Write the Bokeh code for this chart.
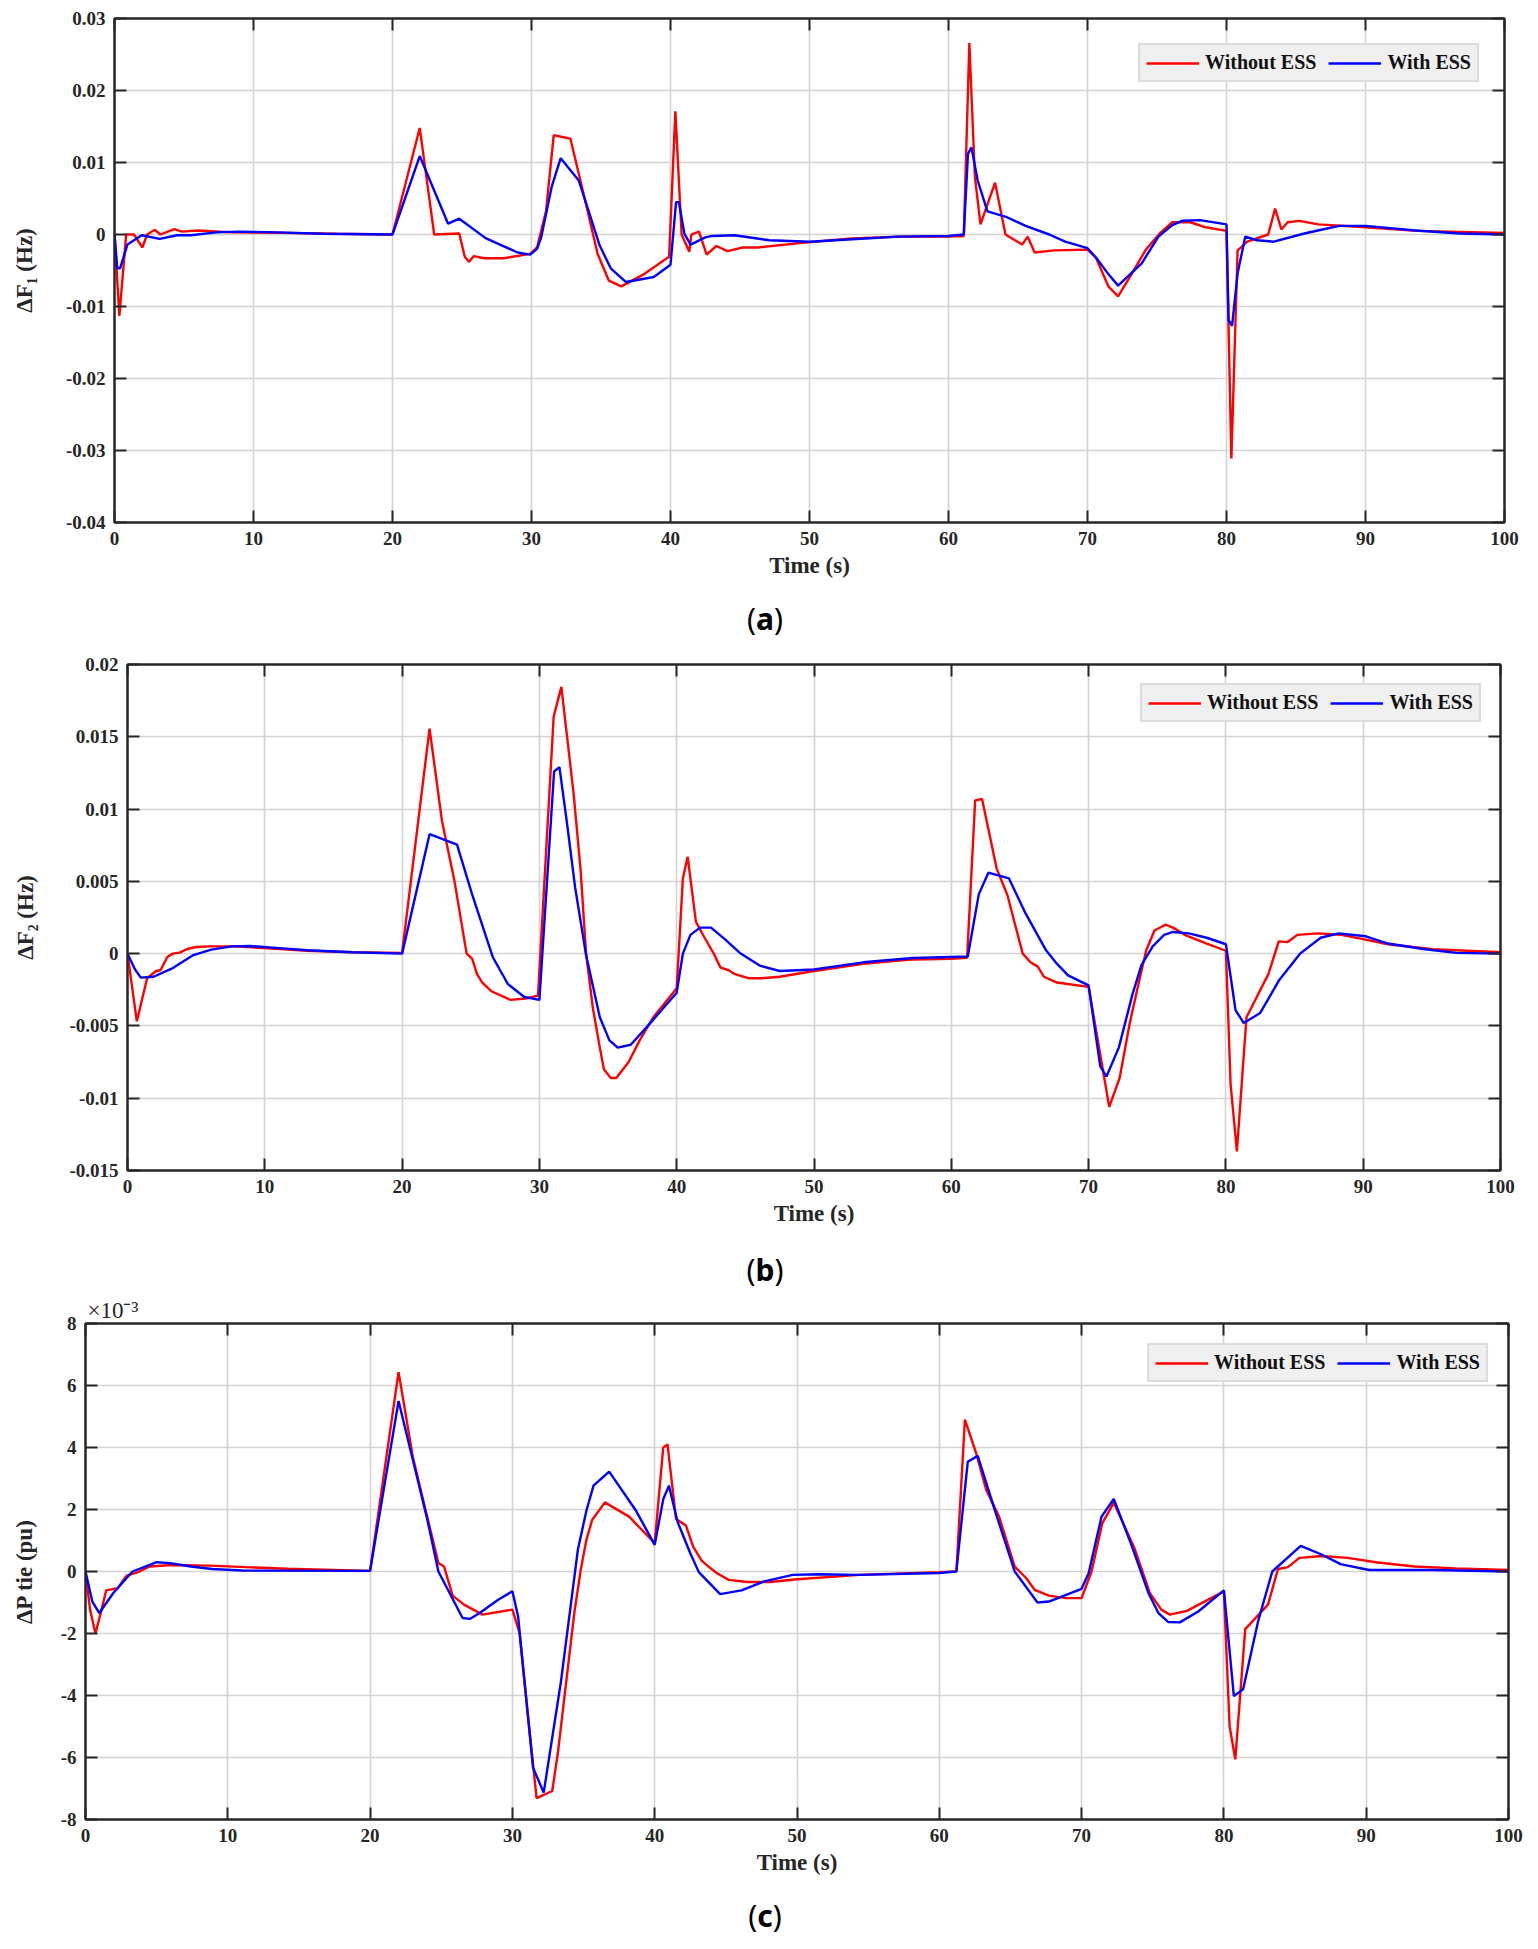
from bokeh.plotting import figure
from bokeh.models import (Range1d, FixedTicker, LinearAxis, CustomJSTickFormatter,
                          Legend, LegendItem, Div, Title)
from bokeh.embed import file_html
from bokeh.resources import INLINE

# ---------------- data ----------------
x_ticks = [0, 10, 20, 30, 40, 50, 60, 70, 80, 90, 100]

# Panel (a)  dF1 (Hz)
a_red_t = [0, 0.35, 0.84, 1.4, 2.0, 2.35, 2.9, 3.3, 4.3, 4.85, 6.0, 8.5, 12, 16, 20, 21.96, 23.0, 24.8,
           25.2, 25.5, 25.85, 26.6, 28.0, 29.9, 30.4, 31.05, 31.6, 32.8, 33.8, 34.76, 35.56, 36.46, 38.1,
           39.9, 40.35, 40.8, 41.35, 41.5, 42.05, 42.6, 43.3, 44.1, 45.2, 46.3, 49.3, 53, 56.4, 60, 61.1,
           61.5, 61.9, 62.3, 63.35, 64.1, 65.3, 65.7, 66.2, 67.6, 70.0, 70.6, 71.5, 72.2, 73.2, 74.2, 75.2,
           76.1, 77.4, 78.5, 80.0, 80.35, 80.8, 81.5, 83.0, 83.5, 83.95, 84.4, 85.25, 86.6, 90, 93.7, 100]
a_red_v = [0, -0.0113, 0, 0, -0.0018, 0, 0.00065, 0, 0.00075, 0.0004, 0.00055, 0.0003, 0.00023, 0.0001, 0,
           0.0148, 0, 0.00014, -0.0031, -0.0038, -0.003, -0.0033, -0.0033, -0.0027, -0.0018, 0.0033, 0.0138,
           0.0133, 0.0052, -0.0027, -0.0064, -0.0072, -0.0055, -0.0031, 0.0171, 0, -0.0024, 0, 0.0004,
           -0.0028, -0.0016, -0.0023, -0.0018, -0.0018, -0.0012, -0.00056, -0.0003, -0.0003, -0.0002,
           0.0266, 0.008, 0.0014, 0.0072, 0, -0.0014, -0.0003, -0.0025, -0.0022, -0.0021, -0.0032, -0.0072,
           -0.0086, -0.0054, -0.0021, 0.00014, 0.0017, 0.0017, 0.001, 0.0005, -0.0311, -0.0022, -0.001, 0,
           0.0036, 0.0007, 0.0017, 0.0019, 0.0014, 0.001, 0.0005, 0.0002]
a_blue_t = [0, 0.2, 0.4, 0.93, 1.96, 3.25, 4.5, 5.5, 7.3, 8.9, 11.8, 15, 20, 21.96, 24.0, 24.8, 26.7, 27.85,
            29.0, 29.9, 30.4, 30.7, 31.45, 32.1, 33.4, 34.1, 34.9, 35.7, 36.8, 38.8, 40.0, 40.4, 40.6, 41.0,
            41.45, 42.5, 43.0, 44.6, 47.1, 50, 53.7, 56.4, 60, 61.1, 61.4, 61.65, 62.1, 62.8, 64.2, 65.55,
            67.25, 68.4, 70.0, 70.65, 71.5, 72.2, 73.9, 75.1, 76.1, 76.8, 78.1, 80.0, 80.15, 80.4, 80.8,
            81.35, 82.2, 83.4, 85.6, 86.9, 88.1, 90, 93.4, 96.8, 100]
a_blue_v = [0, -0.0047, -0.0047, -0.0014, -0.0001, -0.0006, -0.0001, -0.0001, 0.0003, 0.0004, 0.0003, 0.0001,
            0, 0.0109, 0.0015, 0.0022, -0.0005, -0.0015, -0.0025, -0.0028, -0.002, -0.0004, 0.0066, 0.0106,
            0.0075, 0.0033, -0.0015, -0.0047, -0.0066, -0.0059, -0.0042, 0.0045, 0.0045, 0.0001, -0.0014,
            -0.0004, -0.0002, -0.0001, -0.0008, -0.001, -0.0006, -0.0003, -0.0002, 0, 0.0112, 0.0121, 0.0075,
            0.0032, 0.0024, 0.0012, 0, -0.001, -0.0019, -0.0033, -0.0055, -0.0071, -0.004, -0.0003, 0.0013,
            0.0019, 0.002, 0.0014, -0.0119, -0.0127, -0.0054, -0.0003, -0.0008, -0.001, 0.00014, 0.0007,
            0.0012, 0.0012, 0.0006, 0.00014, 0]
a_y_ticks = [-0.04, -0.03, -0.02, -0.01, 0, 0.01, 0.02, 0.03]

# Panel (b)  dF2 (Hz)
b_red_t = [0, 0.68, 1.43, 2.08, 2.4, 2.9, 3.3, 3.8, 4.35, 5.0, 6.0, 7.9, 10.2, 13.1, 16.4, 20, 22.0, 22.9,
           23.8, 24.7, 25.1, 25.45, 25.84, 26.5, 27.9, 29.0, 29.9, 31.04, 31.6, 32.5, 33.0, 33.4, 33.9, 34.4,
           34.7, 35.2, 35.6, 36.5, 37.3, 38.3, 40.0, 40.45, 40.8, 41.4, 42.0, 42.7, 43.2, 43.8, 44.2, 45.2,
           46.2, 47.5, 50.0, 53.6, 57.2, 60, 61.15, 61.74, 62.24, 63.3, 64.1, 65.2, 65.77, 66.3, 66.75, 67.7,
           70, 70.98, 71.5, 72.26, 73.0, 73.7, 74.2, 74.8, 75.6, 76.15, 77.0, 78.6, 80, 80.34, 80.8, 81.5,
           83.1, 83.85, 84.5, 85.2, 86.7, 88.4, 90, 91.8, 95.1, 100]
b_red_v = [0, -0.00468, -0.0017, -0.0012, -0.00115, -0.00023, 0, 0.00007, 0.00032, 0.00046, 0.0005, 0.0005,
           0.00037, 0.0002, 0.0001, 0.00005, 0.01557, 0.0092, 0.0051, 0, -0.00035, -0.0014, -0.002, -0.0026,
           -0.0032, -0.0031, -0.0029, 0.0164, 0.01845, 0.011, 0.0058, 0, -0.0038, -0.0065, -0.008, -0.0086,
           -0.0086, -0.0075, -0.006, -0.0044, -0.0024, 0.0052, 0.0067, 0.0022, 0.00115, 0, -0.00097,
           -0.00115, -0.0014, -0.0017, -0.0017, -0.0016, -0.0012, -0.0007, -0.0004, -0.00035, -0.00028,
           0.0106, 0.0107, 0.0059, 0.004, 0, -0.0006, -0.0009, -0.0016, -0.002, -0.0023, -0.0077, -0.0106,
           -0.0086, -0.0048, -0.0018, 0.00023, 0.0016, 0.002, 0.0018, 0.0013, 0.0007, 0.0002, -0.009,
           -0.01368, -0.0044, -0.0014, 0.00085, 0.0008, 0.0013, 0.0014, 0.0013, 0.001, 0.00065, 0.0003, 0.0001]
b_blue_t = [0, 0.55, 0.97, 1.9, 3.3, 4.8, 6.1, 7.6, 8.9, 10.8, 13.1, 16.4, 20, 22.0, 24.0, 25.1, 26.6, 27.7,
            28.9, 30.0, 31.07, 31.46, 32.0, 32.6, 33.4, 34.4, 35.1, 35.7, 36.65, 37.8, 40.0, 40.45, 41.0, 41.7,
            42.5, 43.5, 44.6, 46.1, 47.5, 50.0, 53.6, 57.2, 60, 61.2, 62.0, 62.7, 64.2, 65.4, 66.9, 67.6, 68.5,
            70, 70.85, 71.3, 72.2, 73.2, 73.85, 74.67, 75.5, 76.15, 77.3, 78.6, 80, 80.7, 81.3, 82.5, 83.9,
            85.4, 86.9, 88.2, 90.2, 91.8, 94.5, 96.8, 100]
b_blue_v = [0, -0.0011, -0.00166, -0.0016, -0.001, -0.0001, 0.00028, 0.0005, 0.00053, 0.0004, 0.00023, 0.0001,
            0, 0.00826, 0.00754, 0.0041, -0.00023, -0.0021, -0.003, -0.0032, 0.0126, 0.0129, 0.0091, 0.0046,
            -0.0001, -0.0044, -0.006, -0.0065, -0.0063, -0.0051, -0.0027, 0, 0.0013, 0.0018, 0.0018, 0.001,
            0.00005, -0.00085, -0.0012, -0.0011, -0.0006, -0.0003, -0.00023, -0.0002, 0.0041, 0.0056, 0.0052,
            0.0028, 0.00023, -0.0006, -0.0015, -0.0022, -0.0078, -0.0085, -0.0065, -0.0028, -0.0008, 0.0005,
            0.0013, 0.0015, 0.0014, 0.0011, 0.00065, -0.0039, -0.0048, -0.0041, -0.0018, 0, 0.0011, 0.0014,
            0.0012, 0.0007, 0.0003, 0.00005, 0]
b_y_ticks = [-0.015, -0.01, -0.005, 0, 0.005, 0.01, 0.015, 0.02]

# Panel (c)  dP tie (pu), values in units of 1e-3
c_red_t = [0, 0.32, 0.7, 1.13, 1.45, 2.26, 2.9, 3.7, 4.5, 6.1, 8.7, 11.3, 14.2, 20, 22.0, 23.0, 23.9, 24.8,
           25.2, 25.8, 26.6, 27.9, 30, 30.5, 31.0, 31.7, 32.8, 33.2, 34.35, 34.8, 35.2, 35.6, 36.5, 38.2, 40.0,
           40.6, 40.9, 41.5, 42.2, 42.7, 43.3, 43.7, 44.35, 45.2, 46.5, 48.1, 50.0, 54.4, 60, 61.2, 61.8, 62.6,
           63.3, 64.2, 65.3, 66.1, 66.7, 67.7, 68.9, 70, 70.7, 71.45, 72.26, 73.7, 74.8, 75.6, 76.2, 77.4, 80,
           80.4, 80.8, 81.5, 83.1, 83.8, 84.5, 85.3, 86.9, 88.7, 90.8, 93.4, 96.3, 100]
c_red_v = [0, -1.23, -2.0, -1.23, -0.61, -0.54, -0.13, -0.02, 0.16, 0.21, 0.19, 0.14, 0.09, 0.02, 6.43, 3.7,
           1.98, 0.27, 0.16, -0.78, -1.07, -1.39, -1.23, -1.98, -4.24, -7.31, -7.08, -5.84, -1.34, 0.05, 1.02,
           1.66, 2.23, 1.77, 0.91, 4.0, 4.1, 1.69, 1.48, 0.8, 0.35, 0.19, -0.05, -0.27, -0.34, -0.34, -0.25,
           -0.11, -0.02, 0, 4.9, 3.8, 2.63, 1.77, 0.16, -0.21, -0.59, -0.78, -0.86, -0.86, 0, 1.55, 2.22, 0.77,
           -0.7, -1.23, -1.39, -1.27, -0.64, -4.99, -6.06, -1.86, -1.07, 0.08, 0.14, 0.44, 0.5, 0.44, 0.29,
           0.16, 0.1, 0.05]
c_blue_t = [0, 0.48, 0.97, 1.94, 3.3, 4.2, 5.0, 5.97, 7.4, 8.9, 11.0, 20, 22.0, 22.9, 24.0, 24.8, 26.5, 27.0,
            27.7, 29.0, 30, 30.4, 31.45, 32.2, 33.4, 34.6, 35.2, 35.7, 36.8, 38.7, 40.0, 40.6, 41.0, 41.6, 42.5,
            43.1, 44.6, 46.1, 47.7, 49.7, 51.5, 54.4, 60, 61.2, 62.0, 62.7, 63.9, 65.3, 66.9, 67.7, 70, 70.5,
            71.4, 72.26, 73.5, 74.7, 75.4, 76.1, 76.9, 78.2, 80, 80.7, 81.35, 82.4, 83.4, 85.4, 86.9, 88.2,
            90.2, 94.7, 100]
c_blue_v = [0, -0.97, -1.34, -0.7, 0, 0.16, 0.3, 0.27, 0.16, 0.08, 0.03, 0.02, 5.5, 3.8, 1.72, 0, -1.5, -1.53,
            -1.34, -0.91, -0.64, -1.45, -6.33, -7.13, -3.59, 0.7, 1.96, 2.77, 3.22, 1.95, 0.86, 2.33, 2.77,
            1.61, 0.59, -0.02, -0.73, -0.61, -0.32, -0.11, -0.09, -0.11, -0.05, 0, 3.54, 3.73, 1.98, 0, -1.0,
            -0.97, -0.56, -0.05, 1.77, 2.34, 0.86, -0.7, -1.34, -1.63, -1.64, -1.29, -0.61, -4.02, -3.8, -1.61,
            0, 0.83, 0.54, 0.24, 0.05, 0.05, 0]
c_y_ticks = [-8, -6, -4, -2, 0, 2, 4, 6, 8]

series_names = ["Without ESS", "With ESS"]

# ---------------- styling ----------------
SERIF = "Liberation Serif"
AX = "#262626"
RED = "#ff0000"
BLUE = "#0000ff"
PAGE_W = 1530


def fmt(digits):
    return CustomJSTickFormatter(code=f"""
        let s = Math.abs(tick) < 1e-12 ? '0' : tick.toFixed({digits});
        if (s.indexOf('.') >= 0) {{ s = s.replace(/0+$/, '').replace(/\\.$/, ''); }}
        return s;
    """)


def style_axis(ax, ticker, show_labels=True, formatter=None):
    ax.ticker = ticker
    ax.axis_line_color = AX
    ax.axis_line_width = 2
    ax.major_tick_in = 12
    ax.major_tick_out = 0
    ax.major_tick_line_color = AX
    ax.major_tick_line_width = 2
    ax.minor_tick_line_color = None
    if show_labels:
        ax.major_label_text_font = SERIF
        ax.major_label_text_font_style = "bold"
        ax.major_label_text_font_size = "19px"
        ax.major_label_text_color = AX
        ax.major_label_standoff = 9
        if formatter is not None:
            ax.formatter = formatter
        ax.axis_label_text_font = SERIF
        ax.axis_label_text_font_style = "bold"
        ax.axis_label_text_font_size = "23px"
        ax.axis_label_text_color = AX
    else:
        ax.major_label_text_font_size = "0px"
        ax.major_label_standoff = 0
        ax.major_label_overrides = {t: "" for t in ticker.ticks}


def make_panel(rt, rv, bt_, bv, yr, yticks, digits, ylabel, fw, fh, bl, btop, br, bb,
               ylab_standoff, xlab_standoff, leg_margin, exp_text=None):
    p = figure(output_backend="svg", toolbar_location=None, tools="", title=None,
               frame_width=fw, frame_height=fh, x_range=Range1d(0, 100), y_range=Range1d(*yr),
               min_border_left=bl, min_border_top=btop, min_border_right=br, min_border_bottom=bb,
               background_fill_color="white", border_fill_color="white")
    xt = FixedTicker(ticks=x_ticks)
    yt = FixedTicker(ticks=yticks)
    style_axis(p.xaxis[0], xt, True, fmt(0))
    style_axis(p.yaxis[0], yt, True, fmt(digits))
    p.xaxis[0].axis_label = "Time (s)"
    p.xaxis[0].axis_label_standoff = xlab_standoff
    p.yaxis[0].axis_label = ylabel
    p.yaxis[0].axis_label_standoff = ylab_standoff
    top = LinearAxis()
    style_axis(top, FixedTicker(ticks=x_ticks), False)
    right = LinearAxis()
    style_axis(right, FixedTicker(ticks=yticks), False)
    p.add_layout(top, "above")
    p.add_layout(right, "right")
    p.xgrid.ticker = xt
    p.ygrid.ticker = yt
    for g in (p.xgrid[0], p.ygrid[0]):
        g.grid_line_color = "#d2d2d2"
        g.grid_line_width = 1.6
    p.outline_line_color = AX
    p.outline_line_width = 2
    r1 = p.line(rt, rv, line_color=RED, line_width=2.4)
    r2 = p.line(bt_, bv, line_color=BLUE, line_width=2.4)
    leg = Legend(items=[LegendItem(label=series_names[0], renderers=[r1]),
                        LegendItem(label=series_names[1], renderers=[r2])],
                 location="top_right", orientation="horizontal", margin=leg_margin,
                 padding=6, spacing=12, glyph_width=53, glyph_height=20, label_standoff=6,
                 label_height=20, label_text_font=SERIF, label_text_font_style="bold",
                 label_text_font_size="20px", label_text_color="#111111",
                 background_fill_color="#efefef", background_fill_alpha=1.0,
                 border_line_color="#c8c8c8", border_line_width=2)
    p.add_layout(leg)
    if exp_text:
        p.title = Title(text=exp_text, align="left", text_font=SERIF, text_font_size="23px",
                        text_font_style="normal", text_color=AX, standoff=1, offset=2)
    p.margin = 0
    return p


def caption(letter, h, lh):
    return Div(text=(f'<div style="width:{PAGE_W}px;text-align:center;font-family:\'Noto Sans\';'
                     f'font-size:30px;line-height:{lh}px;color:#000;">(<b>{letter}</b>)</div>'),
               width=PAGE_W, height=h, margin=0)


pa = make_panel(a_red_t, a_red_v, a_blue_t, a_blue_v, (-0.04, 0.03), a_y_ticks, 2, "ΔF₁ (Hz)",
                1390, 504, 114, 18, 26, 64, 26, 5, 25)
pb = make_panel(b_red_t, b_red_v, b_blue_t, b_blue_v, (-0.015, 0.02), b_y_ticks, 3, "ΔF₂ (Hz)",
                1373, 506, 127, 14, 30, 64, 28, 5, 19)
pc = make_panel(c_red_t, c_red_v, c_blue_t, c_blue_v, (-8, 8), c_y_ticks, 0, "ΔP tie (pu)",
                1423, 496, 85, 31, 22, 64, 21, 5, 20, exp_text="×10⁻³")

roots = [pa, caption("a", 64, 66), pb, caption("b", 58, 72), pc, caption("c", 60, 66)]

open("out.html", "w").write(file_html(roots, INLINE))
